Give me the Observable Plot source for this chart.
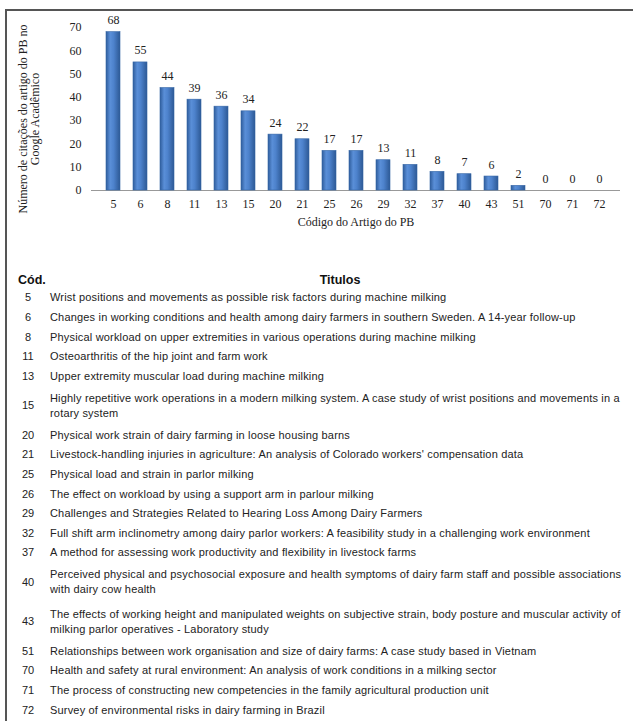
<!DOCTYPE html>
<html><head><meta charset="utf-8">
<script src="https://cdn.jsdelivr.net/npm/d3@7"></script>
<script src="https://cdn.jsdelivr.net/npm/@observablehq/plot@0.6"></script>
<style>
body{margin:0;background:#fff;width:637px;height:721px;position:relative;overflow:hidden;font-family:"Liberation Sans",Arial,sans-serif;color:#222;}
#chart{position:absolute;left:0;top:0;}
.bt{position:absolute;left:5px;top:9px;width:628px;height:2px;background:#555;}
.bl{position:absolute;left:5px;top:9px;width:2px;height:712px;background:#555;}
.hdr{position:absolute;font-weight:bold;font-size:12.5px;line-height:14px;color:#111;}
#rows{position:absolute;left:0;top:288.2px;width:637px;}
.row{position:relative;display:flex;align-items:center;padding:2.3px 0;}
.code{width:36px;margin-left:10px;text-align:center;font-size:11px;line-height:15px;}
.title{margin-left:4px;width:584px;font-size:11px;letter-spacing:0.18px;line-height:15px;}
</style>
</head><body>
<div id="chart"></div>
<div class="bt"></div><div class="bl"></div>
<div class="hdr" style="left:18px;top:273px;">Cód.</div>
<div class="hdr" style="left:240px;width:200px;text-align:center;top:273px;">Titulos</div>
<div id="rows"></div>
<script>
const codes = ["5","6","8","11","13","15","20","21","25","26","29","32","37","40","43","51","70","71","72"];
const citations = [68,55,44,39,36,34,24,22,17,17,13,11,8,7,6,2,0,0,0];
const titles = [
"Wrist positions and movements as possible risk factors during machine milking",
"Changes in working conditions and health among dairy farmers in southern Sweden. A 14-year follow-up",
"Physical workload on upper extremities in various operations during machine milking",
"Osteoarthritis of the hip joint and farm work",
"Upper extremity muscular load during machine milking",
"Highly repetitive work operations in a modern milking system. A case study of wrist positions and movements in a rotary system",
"Physical work strain of dairy farming in loose housing barns",
"Livestock-handling injuries in agriculture: An analysis of Colorado workers' compensation data",
"Physical load and strain in parlor milking",
"The effect on workload by using a support arm in parlour milking",
"Challenges and Strategies Related to Hearing Loss Among Dairy Farmers",
"Full shift arm inclinometry among dairy parlor workers: A feasibility study in a challenging work environment",
"A method for assessing work productivity and flexibility in livestock farms",
"Perceived physical and psychosocial exposure and health symptoms of dairy farm staff and possible associations with dairy cow health",
"The effects of working height and manipulated weights on subjective strain, body posture and muscular activity of milking parlor operatives - Laboratory study",
"Relationships between work organisation and size of dairy farms: A case study based in Vietnam",
"Health and safety at rural environment: An analysis of work conditions in a milking sector",
"The process of constructing new competencies in the family agricultural production unit",
"Survey of environmental risks in dairy farming in Brazil"
];
const yTicks = [0,10,20,30,40,50,60,70];
const yTitle = "Número de citações do artigo do PB no\nGoogle Acadêmico";
const xTitle = "Código do Artigo do PB";

const data = codes.map((c,i)=>({code:c, value:citations[i]}));

const chart = Plot.plot({
  width: 637, height: 240,
  marginTop: 27, marginBottom: 50, marginLeft: 91, marginRight: 17,
  style: {fontFamily: '"Liberation Serif", "Times New Roman", serif', fontSize: "12px", color: "#222", background: "transparent"},
  x: {type: "band", domain: codes, padding: 0.5},
  y: {domain: [0, 70]},
  marks: [
    Plot.ruleY([0], {stroke: "#999", strokeWidth: 1.2}),
    Plot.axisY({ticks: yTicks, tickSize: 0, tickPadding: 10, line: true, stroke: "#aaa", label: null}),
    Plot.axisX({tickSize: 0, tickPadding: 9, label: null}),
    Plot.tickY(data, {x: "code", y: 0, stroke: "url(#bargrad)", strokeWidth: 3}),
    Plot.barY(data, {x: "code", y: "value", fill: "url(#bargrad)", stroke: "#3566a6", strokeWidth: 0.6}),
    Plot.text(data, {x: "code", y: "value", text: d => String(d.value), dy: -8, lineAnchor: "bottom", fill: "#222"}),
    Plot.text([yTitle], {frameAnchor: "left", text: d => d, rotate: -90, textAnchor: "middle", dx: -62, dy: 10, lineAnchor: "middle", fill: "#222"}),
    Plot.text([xTitle], {frameAnchor: "bottom", text: d => d, dy: 32, lineAnchor: "middle", fill: "#222"})
  ]
});
const defs = d3.select(chart).insert("defs", ":first-child");
const g = defs.append("linearGradient").attr("id","bargrad").attr("x1","0").attr("x2","1").attr("y1","0").attr("y2","0");
[["0%","#2f5d9c"],["30%","#5a8fd8"],["55%","#4d82cc"],["100%","#2d5995"]].forEach(([o,c])=>g.append("stop").attr("offset",o).attr("stop-color",c));
document.getElementById("chart").appendChild(chart);

const rows = d3.select("#rows");
codes.forEach((c,i)=>{
  const r = rows.append("div").attr("class","row");
  r.append("div").attr("class","code").text(c);
  r.append("div").attr("class","title").text(titles[i]);
});
document.querySelectorAll(".row").forEach(r=>{
  if (r.offsetHeight > 25) r.style.padding = "4.7px 0";
});
</script>
</body></html>
